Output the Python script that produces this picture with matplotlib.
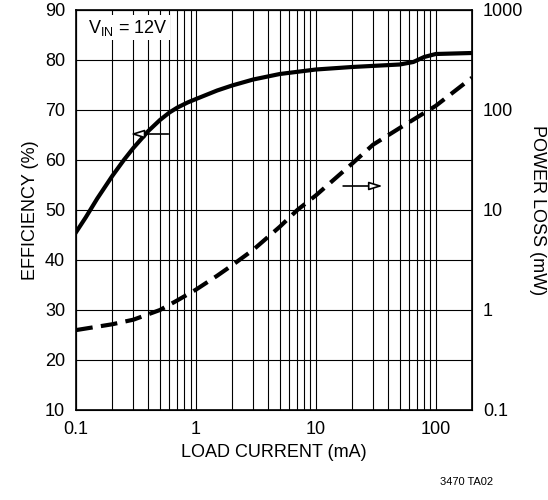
import matplotlib
matplotlib.use("Agg")
import matplotlib.pyplot as plt
import numpy as np

plt.rcParams['font.family'] = ['Liberation Sans', 'DejaVu Sans']

eff_x = [0.1, 0.12, 0.15, 0.2, 0.25, 0.3, 0.4, 0.5, 0.6, 0.7, 0.85, 1, 1.5, 2, 3, 5, 10, 20, 50, 65, 80, 100, 200]
eff_y = [45.6, 48.5, 52.3, 56.8, 60.0, 62.4, 65.8, 68.0, 69.5, 70.5, 71.5, 72.2, 73.9, 74.9, 76.1, 77.2, 78.1, 78.6, 79.1, 79.6, 80.6, 81.2, 81.4]
loss_x = [0.1, 0.2, 0.3, 0.5, 0.7, 1, 1.5, 2, 3, 5, 7, 10, 20, 30, 50, 100, 200]
loss_y = [0.63, 0.72, 0.8, 1.0, 1.25, 1.6, 2.2, 2.8, 4.0, 6.8, 10, 14, 29, 45, 66, 110, 210]

fig = plt.figure(figsize=(5.48, 5.0), dpi=100)
ax = fig.add_axes([0.139, 0.18, 0.722, 0.8])
ax.set_xscale('log')
ax.set_xlim(0.1, 200)
ax.set_ylim(10, 90)
ax.set_yticks(range(10, 91, 10))
ax.set_xticks([0.1, 1, 10, 100])
ax.set_xticklabels(['0.1', '1', '10', '100'])
ax.grid(True, which='both', axis='x', color='black', lw=0.8)
ax.grid(True, which='major', axis='y', color='black', lw=0.8)
ax.tick_params(which='both', length=0, labelsize=13, pad=8)
ax.plot(eff_x, eff_y, color='black', lw=3)
ax.set_xlabel('LOAD CURRENT (mA)', fontsize=13)
ax.set_ylabel('EFFICIENCY (%)', fontsize=13)
for s in ax.spines.values():
    s.set_linewidth(1.2)

ax2 = ax.twinx()
ax2.set_yscale('log')
ax2.set_ylim(0.1, 1000)
ax2.set_yticks([0.1, 1, 10, 100, 1000])
ax2.set_yticklabels(['0.1', '1', '10', '100', '1000'])
ax2.tick_params(which='both', length=0, labelsize=13, pad=8)
ax2.plot(loss_x, loss_y, color='black', lw=3, ls=(0, (4, 2)))
ax2.set_ylabel('POWER LOSS (mW)', fontsize=13, rotation=270, labelpad=16)

ax.annotate('', xy=(0.27, 65.2), xytext=(0.62, 65.2),
            arrowprops=dict(arrowstyle='-|>,head_length=0.8,head_width=0.25', color='black', lw=1.2, fc='white'))
ax.annotate('', xy=(38, 54.8), xytext=(16, 54.8),
            arrowprops=dict(arrowstyle='-|>,head_length=0.8,head_width=0.25', color='black', lw=1.2, fc='white'))
ax.text(0.125, 86.5, r'V$_{\mathregular{IN}}$ = 12V', fontsize=13, va='center',
        bbox=dict(fc='white', ec='none', pad=2))
fig.text(0.9, 0.03, '3470 TA02', fontsize=8, ha='right')
fig.savefig('out.png', dpi=100)
